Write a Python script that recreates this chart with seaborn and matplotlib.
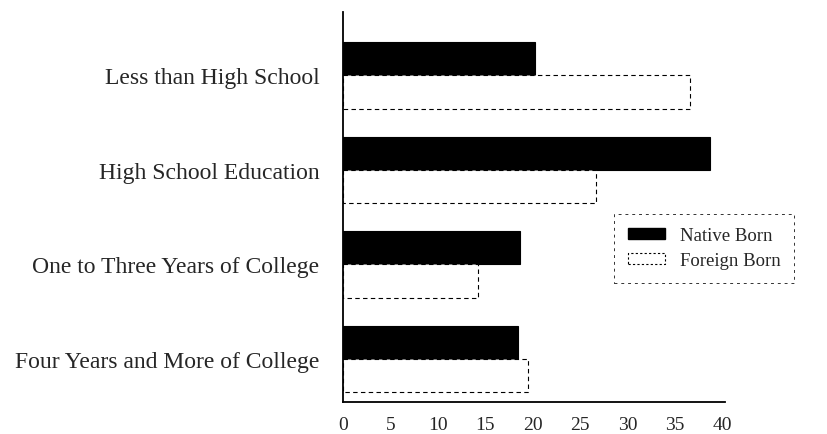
import pandas as pd
import seaborn as sns
import matplotlib.pyplot as plt
from matplotlib.patches import Patch

# education levels and shares (%)
categories = ["Less than High School", "High School Education",
              "One to Three Years of College", "Four Years and More of College"]
native_born = [20.2, 38.7, 18.7, 18.5]
foreign_born = [36.6, 26.7, 14.2, 19.5]
groups = ["Native Born", "Foreign Born"]
xticks = [0, 5, 10, 15, 20, 25, 30, 35, 40]

df = pd.DataFrame({
    "education": categories * 2,
    "share": native_born + foreign_born,
    "group": [groups[0]] * 4 + [groups[1]] * 4,
})

sns.set_style("white")
plt.rcParams["font.family"] = ["Liberation Serif", "DejaVu Serif"]

fig = plt.figure(figsize=(8.28, 4.35), dpi=100)
ax = fig.add_axes([0.4143, 0.0736, 0.4614, 0.8966])

sns.barplot(data=df, x="share", y="education", hue="group", order=categories,
            hue_order=groups, palette=["black", "white"], width=0.7,
            edgecolor="black", linewidth=0.8, legend=False, ax=ax)

# foreign born bars get a dashed outline
for bar in ax.containers[1]:
    bar.set_linestyle((0, (4, 3)))
    bar.set_linewidth(0.8)

ax.set_xlim(0, 40.3)
ax.set_ylim(3.455, -0.672)
ax.set_xticks(xticks)
ax.set_xticklabels([str(t) for t in xticks], fontsize=14)
ax.tick_params(axis="x", length=0, pad=10)
ax.tick_params(axis="y", length=0, pad=17, labelsize=17)
ax.set_xlabel("")
ax.set_ylabel("")
sns.despine(ax=ax)
ax.spines["left"].set_linewidth(1.3)
ax.spines["bottom"].set_linewidth(1.3)
ax.spines["left"].set_color("black")
ax.spines["bottom"].set_color("black")

handles = [Patch(facecolor="black", edgecolor="black"),
           Patch(facecolor="white", edgecolor="black", linestyle=(0, (2, 2)), linewidth=0.8)]
leg = fig.legend(handles, groups, loc="upper left", bbox_to_anchor=(0.742, 0.506),
                 borderaxespad=0, fontsize=13.5, frameon=True, fancybox=False,
                 handlelength=2.0, handleheight=0.55, borderpad=0.7, labelspacing=0.45,
                 handletextpad=0.8)
frame = leg.get_frame()
frame.set_linestyle((0, (3, 4)))
frame.set_edgecolor("black")
frame.set_linewidth(0.7)

plt.savefig("out.png", dpi=100)
